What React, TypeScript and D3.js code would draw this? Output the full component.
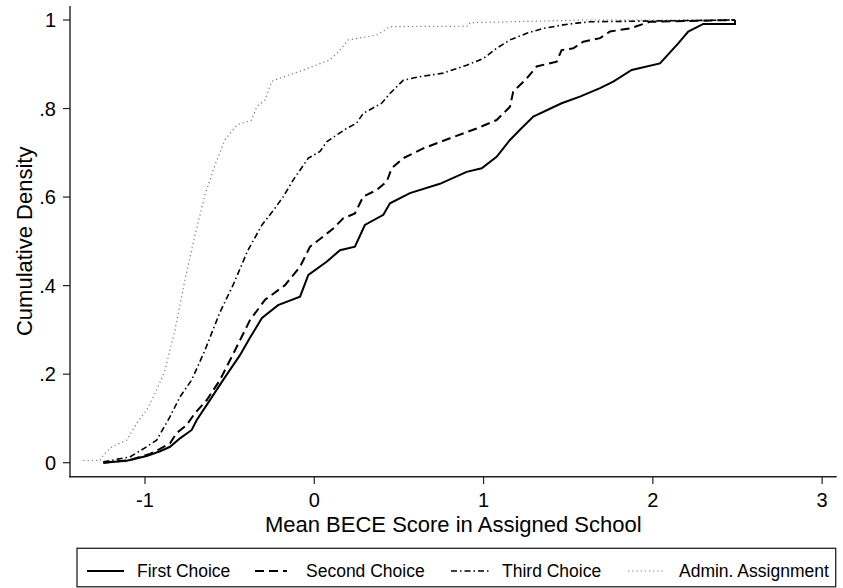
import React from "react";
import * as d3 from "d3";

const xTicks = [-1, 0, 1, 2, 3];
const yTicks = [0, 0.2, 0.4, 0.6, 0.8, 1];
const yTickLabels = ["0", ".2", ".4", ".6", ".8", "1"];

const seriesNames = ["First Choice", "Second Choice", "Third Choice", "Admin. Assignment"];

const firstChoice: [number, number][] = [
  [-1.246, 0], [-1.108, 0.0045], [-0.99, 0.015], [-0.911, 0.026], [-0.852, 0.036],
  [-0.793, 0.055], [-0.724, 0.074], [-0.695, 0.096], [-0.636, 0.13], [-0.538, 0.187],
  [-0.439, 0.243], [-0.38, 0.282], [-0.309, 0.327], [-0.214, 0.356], [-0.084, 0.375],
  [-0.035, 0.424], [0.073, 0.454], [0.152, 0.48], [0.24, 0.488], [0.299, 0.537],
  [0.408, 0.56], [0.447, 0.586], [0.565, 0.609], [0.742, 0.63], [0.9, 0.657],
  [0.989, 0.665], [1.077, 0.691], [1.156, 0.729], [1.215, 0.752], [1.294, 0.782],
  [1.461, 0.812], [1.569, 0.827], [1.688, 0.846], [1.766, 0.861], [1.875, 0.887],
  [2.042, 0.902], [2.15, 0.947], [2.209, 0.974], [2.298, 0.991], [2.485, 0.991], [2.485, 1],
];

const secondChoice: [number, number][] = [
  [-1.246, 0], [-1.089, 0.006], [-0.97, 0.02], [-0.911, 0.031], [-0.852, 0.044],
  [-0.813, 0.067], [-0.754, 0.085], [-0.705, 0.112], [-0.636, 0.141], [-0.557, 0.187],
  [-0.468, 0.254], [-0.38, 0.322], [-0.291, 0.368], [-0.173, 0.401], [-0.084, 0.443],
  [-0.025, 0.488], [0.053, 0.511], [0.112, 0.529], [0.171, 0.552], [0.24, 0.563],
  [0.289, 0.601], [0.369, 0.616], [0.428, 0.635], [0.457, 0.665], [0.526, 0.688],
  [0.644, 0.71], [0.802, 0.733], [0.959, 0.755], [1.077, 0.774], [1.156, 0.804],
  [1.175, 0.838], [1.255, 0.868], [1.314, 0.895], [1.432, 0.906], [1.461, 0.932],
  [1.53, 0.936], [1.589, 0.951], [1.688, 0.959], [1.747, 0.974], [1.865, 0.981],
  [1.983, 0.996], [2.485, 1],
];

const thirdChoice: [number, number][] = [
  [-1.246, 0.002], [-1.089, 0.013], [-0.99, 0.036], [-0.931, 0.051], [-0.852, 0.104],
  [-0.793, 0.149], [-0.724, 0.187], [-0.646, 0.254], [-0.557, 0.34], [-0.48, 0.401],
  [-0.392, 0.48], [-0.309, 0.537], [-0.232, 0.575], [-0.183, 0.601], [-0.124, 0.639],
  [-0.035, 0.688], [0.034, 0.703], [0.073, 0.725], [0.191, 0.755], [0.25, 0.767],
  [0.289, 0.789], [0.398, 0.812], [0.447, 0.834], [0.526, 0.864], [0.624, 0.872],
  [0.762, 0.88], [0.9, 0.898], [0.998, 0.913], [1.077, 0.936], [1.156, 0.955],
  [1.255, 0.97], [1.353, 0.981], [1.471, 0.989], [1.55, 0.993], [1.628, 0.996],
  [2.485, 1],
];

const adminAssignment: [number, number][] = [
  [-1.364, 0.005], [-1.266, 0.005], [-1.246, 0.017], [-1.197, 0.036], [-1.108, 0.051],
  [-1.049, 0.089], [-0.99, 0.119], [-0.931, 0.164], [-0.882, 0.209], [-0.823, 0.3],
  [-0.764, 0.413], [-0.705, 0.514], [-0.646, 0.604], [-0.587, 0.672], [-0.528, 0.729],
  [-0.457, 0.763], [-0.37, 0.774], [-0.34, 0.804], [-0.291, 0.819], [-0.252, 0.861],
  [-0.222, 0.866], [-0.065, 0.887], [0.093, 0.91], [0.152, 0.932], [0.201, 0.955],
  [0.369, 0.966], [0.447, 0.985], [0.91, 0.986], [0.92, 0.994], [1.392, 0.998],
  [1.589, 1], [2.485, 1],
];

const FONT = "'Liberation Sans', Arial, Helvetica, sans-serif";

const styles = [
  { color: "#000", width: 2, dash: "none" },
  { color: "#000", width: 2, dash: "9,5" },
  { color: "#000", width: 1.6, dash: "6,3,1.5,3" },
  { color: "#777", width: 1.2, dash: "1.2,3" },
];

export default function App() {
  const W = 843, H = 588;
  const x = d3.scaleLinear().domain([-1.443, 3.086]).range([70, 836.7]);
  const y = d3.scaleLinear().domain([-0.0316, 1.0316]).range([476.7, 6]);
  const line = d3.line<[number, number]>().x(d => x(d[0])).y(d => y(d[1]));
  const data = [firstChoice, secondChoice, thirdChoice, adminAssignment];
  const drawOrder = [3, 2, 1, 0];

  const legendItems = [
    { s0: 87, s1: 124, t: 137 },
    { s0: 255, s1: 287, t: 306 },
    { s0: 451, s1: 489, t: 502 },
    { s0: 628, s1: 664, t: 679 },
  ];
  const ly = 571;

  return (
    <svg width={W} height={H} style={{ position: "absolute", left: 0, top: 0, background: "#fff" }} fontFamily={FONT}>
      <rect x={0} y={0} width={W} height={H} fill="#fff" />
      {drawOrder.map(i => (
        <path key={i} d={line(data[i]) || ""} fill="none" stroke={styles[i].color}
          strokeWidth={styles[i].width} strokeDasharray={styles[i].dash} strokeLinejoin="miter" />
      ))}
      {/* axes */}
      <line x1={70} x2={70} y1={6} y2={477.4} stroke="#222" strokeWidth={1.4} />
      <line x1={69.3} x2={836.7} y1={476.7} y2={476.7} stroke="#222" strokeWidth={1.4} />
      {yTicks.map((t, i) => (
        <g key={t}>
          <line x1={63} x2={70} y1={y(t)} y2={y(t)} stroke="#222" strokeWidth={1.2} />
          <text x={56} y={y(t)} dy="0.36em" textAnchor="end" fontSize={20} fill="#000">{yTickLabels[i]}</text>
        </g>
      ))}
      {xTicks.map(t => (
        <g key={t}>
          <line x1={x(t)} x2={x(t)} y1={476.7} y2={484} stroke="#222" strokeWidth={1.2} />
          <text x={x(t)} y={507} textAnchor="middle" fontSize={20} fill="#000">{t}</text>
        </g>
      ))}
      <text x={453.3} y={531.5} textAnchor="middle" fontSize={22} fill="#000">Mean BECE Score in Assigned School</text>
      <text transform={`translate(32,241.3) rotate(-90)`} textAnchor="middle" fontSize={22} fill="#000">Cumulative Density</text>
      {/* legend */}
      <rect x={77} y={548.3} width={758.7} height={38.5} fill="none" stroke="#222" strokeWidth={1.3} />
      {legendItems.map((it, i) => (
        <g key={i}>
          <line x1={it.s0} x2={it.s1} y1={ly} y2={ly} stroke={styles[i].color}
            strokeWidth={styles[i].width} strokeDasharray={styles[i].dash} />
          <text x={it.t} y={ly} dy="0.36em" fontSize={17.5} fill="#000">{seriesNames[i]}</text>
        </g>
      ))}
    </svg>
  );
}
